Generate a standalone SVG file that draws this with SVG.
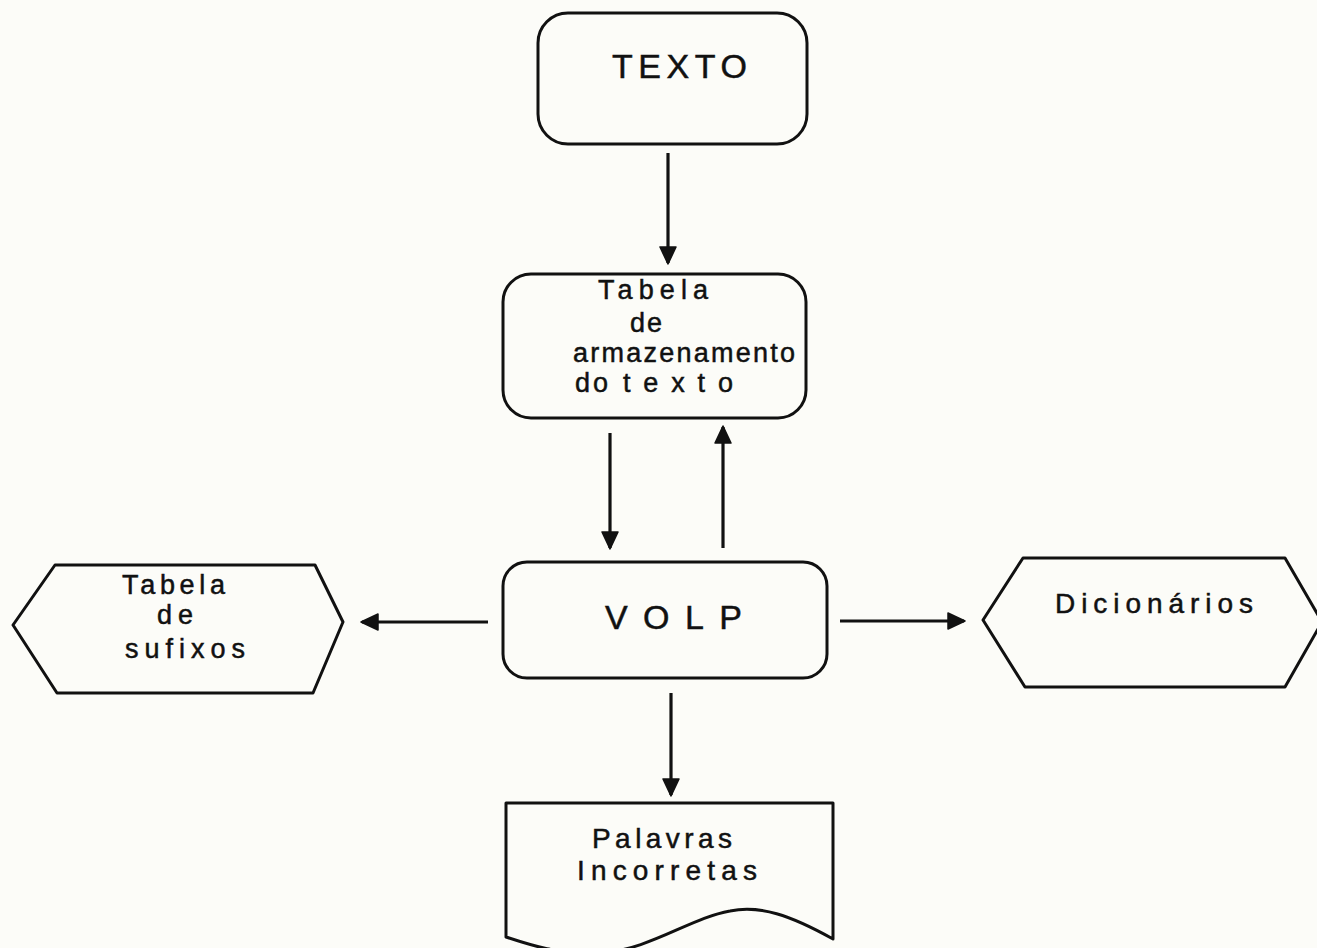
<svg xmlns="http://www.w3.org/2000/svg" width="1317" height="948" viewBox="0 0 1317 948">
<style>
.box{fill:none;stroke:#111;stroke-width:3;stroke-linejoin:round}
.t{font-family:"Liberation Sans",Arial,sans-serif;fill:#111;stroke:#111;stroke-width:0.5;font-size:27px}
.m{font-size:28px}
.big{font-size:34px}
.conn line{stroke:#111;stroke-width:3.2}
</style>
<defs>
<marker id="ah" markerUnits="userSpaceOnUse" markerWidth="20" markerHeight="20" refX="17" refY="9" orient="auto">
<path d="M1,1 L18,9 L1,17 Z" fill="#111" stroke="#111" stroke-width="1.5" stroke-linejoin="round"/>
</marker>
</defs>
<rect width="1317" height="948" fill="#fcfcf8"/>
<g id="texto">
<rect class="box" x="538" y="13" width="269" height="131" rx="30"/>
<text class="t big" x="612" y="78" textLength="135" lengthAdjust="spacing">TEXTO</text>
</g>
<g id="tabela-armazenamento">
<rect class="box" x="503" y="274" width="303" height="144" rx="28"/>
<text class="t" x="598" y="299" textLength="110" lengthAdjust="spacing">Tabela</text>
<text class="t" x="630" y="332" textLength="32" lengthAdjust="spacing">de</text>
<text class="t" x="573" y="362" textLength="222" lengthAdjust="spacing">armazenamento</text>
<text class="t" x="575" y="392" textLength="33" lengthAdjust="spacing">do</text>
<text class="t" x="623" y="392" textLength="110" lengthAdjust="spacing">texto</text>
</g>
<g id="volp">
<rect class="box" x="503" y="562" width="324" height="116" rx="24"/>
<text class="t big" x="605" y="629" textLength="137" lengthAdjust="spacing">VOLP</text>
</g>
<g id="tabela-sufixos">
<polygon class="box" points="13,625 55,565 315,565 343,622 313,693 57,693"/>
<text class="t" x="122" y="594" textLength="103" lengthAdjust="spacing">Tabela</text>
<text class="t" x="157" y="624" textLength="36" lengthAdjust="spacing">de</text>
<text class="t" x="125" y="658" textLength="120" lengthAdjust="spacing">sufixos</text>
</g>
<g id="dicionarios">
<polygon class="box" points="983,620 1023,558 1285,558 1322,622 1285,687 1025,687"/>
<text class="t m" x="1055" y="613" textLength="198" lengthAdjust="spacing">Dicionários</text>
</g>
<g id="palavras-incorretas">
<path class="box" d="M506,803 H833 V939 C790,915 760,905 730,911 C690,918 650,950 600,953 C560,955 530,945 506,937 Z"/>
<text class="t m" x="592" y="848" textLength="140" lengthAdjust="spacing">Palavras</text>
<text class="t m" x="577" y="880" textLength="180" lengthAdjust="spacing">Incorretas</text>
</g>
<g id="connectors" class="conn">
<line x1="668" y1="153" x2="668" y2="263" marker-end="url(#ah)"/>
<line x1="610" y1="433" x2="610" y2="548" marker-end="url(#ah)"/>
<line x1="723" y1="548" x2="723" y2="427" marker-end="url(#ah)"/>
<line x1="488" y1="622" x2="362" y2="622" marker-end="url(#ah)"/>
<line x1="840" y1="621" x2="964" y2="621" marker-end="url(#ah)"/>
<line x1="671" y1="693" x2="671" y2="795" marker-end="url(#ah)"/>
</g>
</svg>
